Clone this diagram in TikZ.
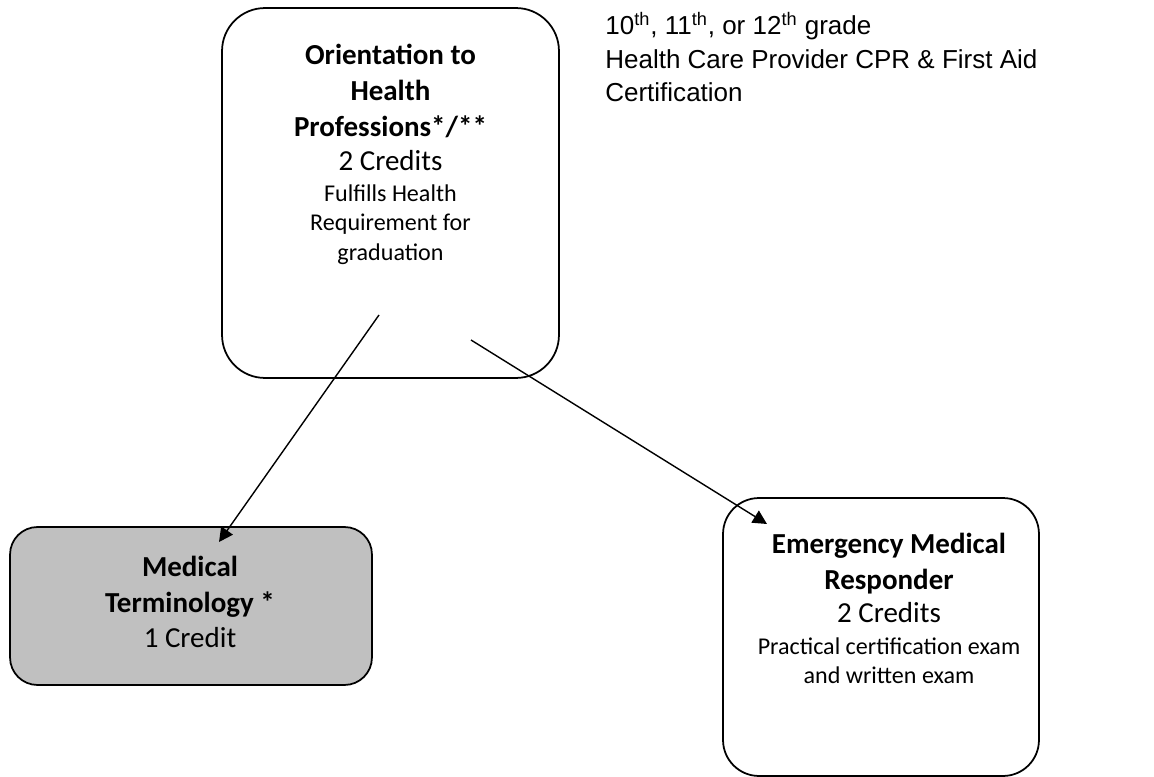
\documentclass[tikz,border=0pt]{standalone}
\usepackage{fontspec}
\setmainfont{Carlito}
\newfontfamily\gradefont{Liberation Sans}
\usetikzlibrary{arrows.meta,positioning}

\definecolor{termgray}{RGB}{192,192,192}

\tikzset{
    course/.style={draw, line width=1pt, inner sep=0pt},
    coursetitle/.style={font=\fontsize{16.5}{20.4}\selectfont\bfseries, align=center, inner sep=0pt},
    credits/.style={font=\fontsize{16.5}{20}\selectfont, inner sep=0pt, anchor=base},
    coursenote/.style={font=\fontsize{13.7}{16.8}\selectfont, align=center, inner sep=0pt, anchor=north},
    pathway/.style={line width=0.8pt, -{Triangle[length=8pt, width=8pt]}}
}

\begin{document}
\begin{tikzpicture}[x=0.02cm, y=-0.02cm]
    \useasboundingbox (0,0) rectangle (1154,777);

    \node[course, rounded corners=0.86cm, minimum width=6.74cm, minimum height=7.4cm] (orient) at (390.5,193) {};
    \node[course, rounded corners=0.55cm, fill=termgray, minimum width=7.24cm, minimum height=3.16cm] (medterm) at (191,606) {};
    \node[course, rounded corners=0.72cm, minimum width=6.32cm, minimum height=5.56cm] (emr) at (881,637) {};

    \node[coursetitle, anchor=north] (orienttitle) at (390.5,44) {Orientation to\\Health\\Professions*/**};
    \node[credits] (orientcredits) at (390.5,171) {2 Credits};
    \node[coursenote] (orientnote) at (390.5,184) {Fulfills Health\\Requirement for\\graduation};

    \node[coursetitle, anchor=north] (medtermtitle) at (190,556) {\fontsize{16.5}{21.5}\selectfont Medical\\Terminology *};
    \node[credits] (medtermcredits) at (190,647) {1 Credit};

    \node[coursetitle, anchor=north] (emrtitle) at (889,533) {\fontsize{16.5}{19.8}\selectfont Emergency Medical\\Responder};
    \node[credits] (emrcredits) at (889,622) {2 Credits};
    \node[coursenote] (emrnote) at (889,637) {\fontsize{13.7}{17}\selectfont Practical certification exam\\and written exam};

    \node[font=\gradefont\fontsize{14.8}{19}\selectfont, align=left, anchor=north west, inner sep=0pt] (grades) at (605,12)
        {10\textsuperscript{th}, 11\textsuperscript{th}, or 12\textsuperscript{th} grade\\Health Care Provider CPR \& First Aid\\Certification};

    \coordinate (orientleft) at (379,315);
    \coordinate (orientright) at (471,340);
    \coordinate (medtermtop) at (219,542);
    \coordinate (emrtop) at (767,524);

    \draw[pathway] (orientleft) -- (medtermtop);
    \draw[pathway] (orientright) -- (emrtop);
\end{tikzpicture}
\end{document}
